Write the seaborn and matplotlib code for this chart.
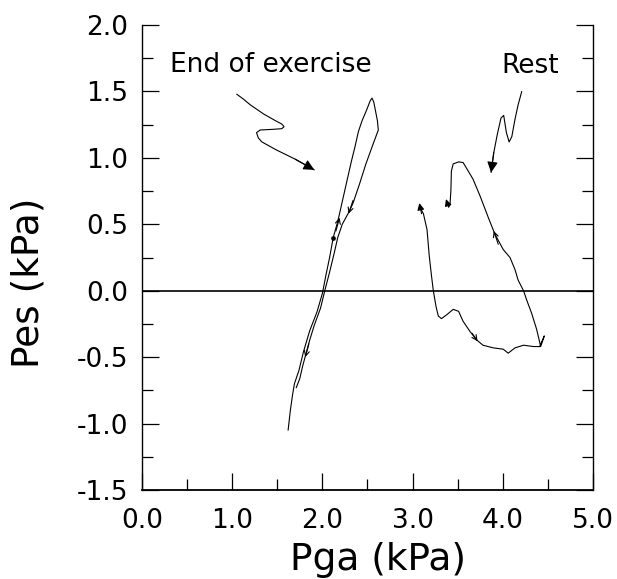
import matplotlib
matplotlib.use("Agg")
import matplotlib.pyplot as plt
import seaborn as sns
from matplotlib.ticker import MultipleLocator, FuncFormatter

# End of exercise loop (Pga, Pes in kPa)
ex_pga = [1.62, 1.645, 1.67, 1.69, 1.74, 1.79, 1.86, 1.94, 2.00, 2.04, 2.08, 2.12,
          2.17, 2.22, 2.27, 2.32, 2.36, 2.40, 2.44, 2.49, 2.53, 2.55, 2.57, 2.59,
          2.61, 2.62, 2.56, 2.48, 2.41, 2.34, 2.30, 2.22, 2.17, 2.13, 2.08, 2.03,
          1.98, 1.91, 1.86, 1.82, 1.78, 1.75, 1.71]
ex_pes = [-1.05, -0.90, -0.78, -0.70, -0.60, -0.46, -0.30, -0.16, -0.02, 0.12, 0.25, 0.40,
          0.52, 0.67, 0.82, 0.97, 1.08, 1.20, 1.28, 1.36, 1.43, 1.45, 1.42, 1.35,
          1.28, 1.21, 1.10, 0.95, 0.80, 0.66, 0.60, 0.50, 0.40, 0.28, 0.14, 0.01,
          -0.13, -0.26, -0.37, -0.47, -0.57, -0.66, -0.73]
ex_dot_pga = [2.12]
ex_dot_pes = [0.40]

# Rest loop
rest_pga = [3.08, 3.12, 3.16, 3.185, 3.21, 3.23, 3.26, 3.285, 3.32, 3.38, 3.45, 3.51,
            3.56, 3.64, 3.71, 3.78, 3.895, 4.005, 4.06, 4.135, 4.23, 4.34, 4.41, 4.46,
            4.42, 4.375, 4.32, 4.265, 4.23, 4.17, 4.135, 4.08, 4.005, 3.91, 3.84, 3.75,
            3.67, 3.60, 3.56, 3.51, 3.45, 3.43, 3.425, 3.415, 3.40]
rest_pes = [0.63, 0.58, 0.46, 0.26, 0.11, 0.0, -0.12, -0.19, -0.21, -0.18, -0.14, -0.155,
            -0.23, -0.31, -0.37, -0.41, -0.43, -0.44, -0.47, -0.43, -0.41, -0.42, -0.42, -0.34,
            -0.42, -0.29, -0.17, -0.07, 0.0, 0.08, 0.16, 0.25, 0.31, 0.43, 0.55, 0.71,
            0.84, 0.92, 0.965, 0.97, 0.955, 0.90, 0.76, 0.65, 0.63]

# direction arrows on the loops: tail -> head
loop_arrow_x0 = [2.15, 2.34, 1.85, 3.95, 3.66]
loop_arrow_y0 = [0.45, 0.68, -0.40, 0.35, -0.32]
loop_arrow_x1 = [2.19, 2.29, 1.81, 3.90, 3.72]
loop_arrow_y1 = [0.55, 0.58, -0.50, 0.45, -0.38]

# filled heads at the loop ends
end_arrow_x0 = [3.10, 3.40]
end_arrow_y0 = [0.58, 0.63]
end_arrow_x1 = [3.075, 3.37]
end_arrow_y1 = [0.66, 0.69]

# leader lines for the labels
ex_lead_pga = [1.05, 1.12, 1.20, 1.35, 1.48, 1.55, 1.575, 1.55, 1.45, 1.31, 1.27,
               1.29, 1.33, 1.49, 1.70, 1.91]
ex_lead_pes = [1.48, 1.445, 1.40, 1.33, 1.28, 1.255, 1.235, 1.22, 1.215, 1.21, 1.19,
               1.15, 1.12, 1.06, 0.99, 0.91]
rest_lead_pga = [4.21, 4.17, 4.135, 4.10, 4.07, 4.04, 4.01, 3.98, 3.94, 3.90, 3.87]
rest_lead_pes = [1.50, 1.40, 1.29, 1.16, 1.12, 1.19, 1.32, 1.30, 1.18, 1.04, 0.89]

labels = ["End of exercise", "Rest"]
label_x = [1.43, 4.30]
label_y = [1.70, 1.69]


def main():
    sns.set_style("ticks")
    plt.rcParams['font.family'] = ['DejaVu Sans']
    plt.rcParams['axes.unicode_minus'] = False
    plt.rcParams['text.color'] = 'black'
    plt.rcParams['axes.labelcolor'] = 'black'

    fig = plt.figure(figsize=(6.17, 5.79), dpi=100)
    ax = fig.add_axes([0.2301, 0.1537, 0.731, 0.803])

    line_kw = dict(sort=False, estimator=None, color='black', linewidth=0.8, ax=ax)
    sns.lineplot(x=ex_pga, y=ex_pes, **line_kw)
    sns.lineplot(x=rest_pga, y=rest_pes, **line_kw)
    sns.lineplot(x=ex_lead_pga, y=ex_lead_pes, **line_kw)
    sns.lineplot(x=rest_lead_pga, y=rest_lead_pes, **line_kw)
    sns.scatterplot(x=ex_dot_pga, y=ex_dot_pes, color='black', s=14, ax=ax)

    ax.axhline(0, color='black', linewidth=1.2)

    # arrowheads
    for x0, y0, x1, y1 in zip(loop_arrow_x0, loop_arrow_y0, loop_arrow_x1, loop_arrow_y1):
        ax.annotate('', xy=(x1, y1), xytext=(x0, y0),
                    arrowprops=dict(arrowstyle='->', color='black', lw=0.8,
                                    mutation_scale=9, shrinkA=0, shrinkB=0))
    for x0, y0, x1, y1 in zip(end_arrow_x0, end_arrow_y0, end_arrow_x1, end_arrow_y1):
        ax.annotate('', xy=(x1, y1), xytext=(x0, y0),
                    arrowprops=dict(arrowstyle='-|>', color='black', lw=0.8,
                                    mutation_scale=10, shrinkA=0, shrinkB=0))
    for px, py in [(ex_lead_pga, ex_lead_pes), (rest_lead_pga, rest_lead_pes)]:
        ax.annotate('', xy=(px[-1], py[-1]), xytext=(px[-2], py[-2]),
                    arrowprops=dict(arrowstyle='-|>', color='black', lw=0.8,
                                    mutation_scale=16, shrinkA=0, shrinkB=0))

    for txt, tx, ty in zip(labels, label_x, label_y):
        ax.text(tx, ty, txt, ha='center', va='center', fontsize=19, color='black')

    ax.set_xlim(0, 5)
    ax.set_ylim(-1.5, 2.0)
    ax.xaxis.set_major_locator(MultipleLocator(1.0))
    ax.xaxis.set_minor_locator(MultipleLocator(0.5))
    ax.yaxis.set_major_locator(MultipleLocator(0.5))
    ax.yaxis.set_minor_locator(MultipleLocator(0.25))
    fmt = FuncFormatter(lambda v, p: f"{v:.1f}".replace("\u2212", "-"))
    ax.xaxis.set_major_formatter(fmt)
    ax.yaxis.set_major_formatter(fmt)

    ax.tick_params(axis='both', which='both', direction='in', colors='black',
                   labelcolor='black', labelsize=19, width=0.9)
    ax.tick_params(axis='y', which='both', left=True, right=True, labelright=False)
    ax.tick_params(axis='x', which='both', top=False, bottom=True)
    ax.tick_params(axis='both', which='major', length=12.5)
    ax.tick_params(axis='both', which='minor', length=8)
    ax.tick_params(axis='y', which='major', pad=10)
    ax.tick_params(axis='x', which='major', pad=13)

    ax.spines['top'].set_visible(False)
    for side in ['left', 'right', 'bottom']:
        ax.spines[side].set_visible(True)
        ax.spines[side].set_color('black')
        ax.spines[side].set_linewidth(1.0)
    ax.spines['bottom'].set_linewidth(1.3)

    ax.set_xlabel('Pga (kPa)', fontsize=27, va='center', color='black')
    ax.set_ylabel('Pes (kPa)', fontsize=27, va='center', color='black')
    ax.xaxis.set_label_coords(0.524, -0.151)
    ax.yaxis.set_label_coords(-0.252, 0.445)

    fig.savefig("out.png", dpi=100)
    plt.close(fig)


if __name__ == "__main__":
    main()
